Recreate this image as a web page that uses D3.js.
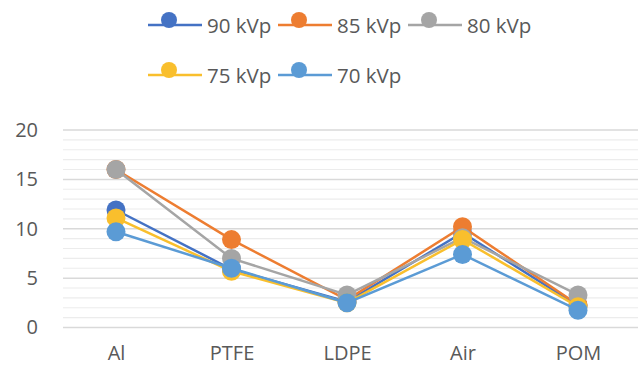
<!DOCTYPE html>
<html>
<head>
<meta charset="utf-8">
<script src="https://cdn.jsdelivr.net/npm/d3@7/dist/d3.min.js"></script>
<style>
  html, body { margin: 0; padding: 0; background: #fff; }
  svg { display: block; font-family: "Open Sans", "Noto Sans", sans-serif; }
</style>
</head>
<body>
<svg id="chart" width="638" height="367"></svg>
<script>
// Materials on the x axis
const categories = ["Al", "PTFE", "LDPE", "Air", "POM"];

// Tube voltages, one series each
const seriesNames = ["90 kVp", "85 kVp", "80 kVp", "75 kVp", "70 kVp"];
const seriesColors = ["#4472C4", "#ED7D31", "#A5A5A5", "#F9BF2D", "#5B9BD5"];

// Measured values per material (Al, PTFE, LDPE, Air, POM)
const kvp90 = [11.9, 5.9, 2.6, 9.6, 2.2];
const kvp85 = [16.0, 8.9, 2.8, 10.2, 2.3];
const kvp80 = [16.0, 7.0, 3.3, 9.1, 3.3];
const kvp75 = [11.1, 5.7, 2.5, 8.9, 2.1];
const kvp70 = [9.7, 6.0, 2.5, 7.4, 1.75];
const seriesValues = [kvp90, kvp85, kvp80, kvp75, kvp70];

// Y axis ticks
const yTicks = [0, 5, 10, 15, 20];
const yMinorStep = 1;

const svg = d3.select("#chart");

const plot = { left: 63, right: 638, top: 130, bottom: 327.5 };

const x = d3.scalePoint()
  .domain(categories)
  .range([116, 578]);

const y = d3.scaleLinear()
  .domain([0, 20])
  .range([plot.bottom, plot.top]);

// Gridlines: light minor lines every unit, slightly darker at labelled ticks
const minor = d3.range(0, 20 + yMinorStep / 2, yMinorStep).filter(v => !yTicks.includes(v));
svg.append("g").selectAll("line")
  .data(minor)
  .join("line")
  .attr("x1", plot.left).attr("x2", plot.right)
  .attr("y1", d => y(d)).attr("y2", d => y(d))
  .attr("stroke", "#ececec")
  .attr("stroke-width", 1.2);

svg.append("g").selectAll("line")
  .data(yTicks)
  .join("line")
  .attr("x1", plot.left).attr("x2", plot.right)
  .attr("y1", d => y(d)).attr("y2", d => y(d))
  .attr("stroke", "#d9d9d9")
  .attr("stroke-width", 1.5);

// Y axis labels
const yAxis = d3.axisLeft(y).tickValues(yTicks).tickSize(0).tickPadding(0);
const yg = svg.append("g")
  .attr("transform", "translate(38,0)")
  .call(yAxis);
yg.select(".domain").remove();
yg.selectAll("text")
  .attr("fill", "#595959")
  .style("font-size", "20px")
  .style("font-family", "'Open Sans', sans-serif");

// X axis labels
const xAxis = d3.axisBottom(x).tickSize(0).tickPadding(0);
const xg = svg.append("g")
  .attr("transform", "translate(0,346)")
  .call(xAxis);
xg.select(".domain").remove();
xg.selectAll("text")
  .attr("fill", "#595959")
  .style("font-size", "20px")
  .style("font-family", "'Open Sans', sans-serif");

// Series lines and markers, drawn in legend order
const line = d3.line()
  .x((d, i) => x(categories[i]))
  .y(d => y(d));

seriesValues.forEach((vals, si) => {
  const g = svg.append("g");
  g.append("path")
    .datum(vals)
    .attr("d", line)
    .attr("fill", "none")
    .attr("stroke", seriesColors[si])
    .attr("stroke-width", 2.5);
  g.selectAll("circle")
    .data(vals)
    .join("circle")
    .attr("cx", (d, i) => x(categories[i]))
    .attr("cy", d => y(d))
    .attr("r", 9.5)
    .attr("fill", seriesColors[si]);
});

// Legend, two rows
const legendPos = [
  { x: 148, y: 25 }, { x: 278, y: 25 }, { x: 408, y: 25 },
  { x: 148, y: 75 }, { x: 278, y: 75 }
];
const legend = svg.append("g");
seriesNames.forEach((name, i) => {
  const p = legendPos[i];
  const g = legend.append("g").attr("transform", `translate(${p.x},${p.y})`);
  g.append("line")
    .attr("x1", 0).attr("x2", 54)
    .attr("y1", 0).attr("y2", 0)
    .attr("stroke", seriesColors[i])
    .attr("stroke-width", 2.5);
  g.append("circle")
    .attr("cx", 21).attr("cy", -5)
    .attr("r", 8)
    .attr("fill", seriesColors[i]);
  g.append("text")
    .attr("x", 59).attr("y", 3)
    .attr("dominant-baseline", "middle")
    .attr("fill", "#595959")
    .style("font-size", "20.5px")
    .text(name);
});
</script>
</body>
</html>
